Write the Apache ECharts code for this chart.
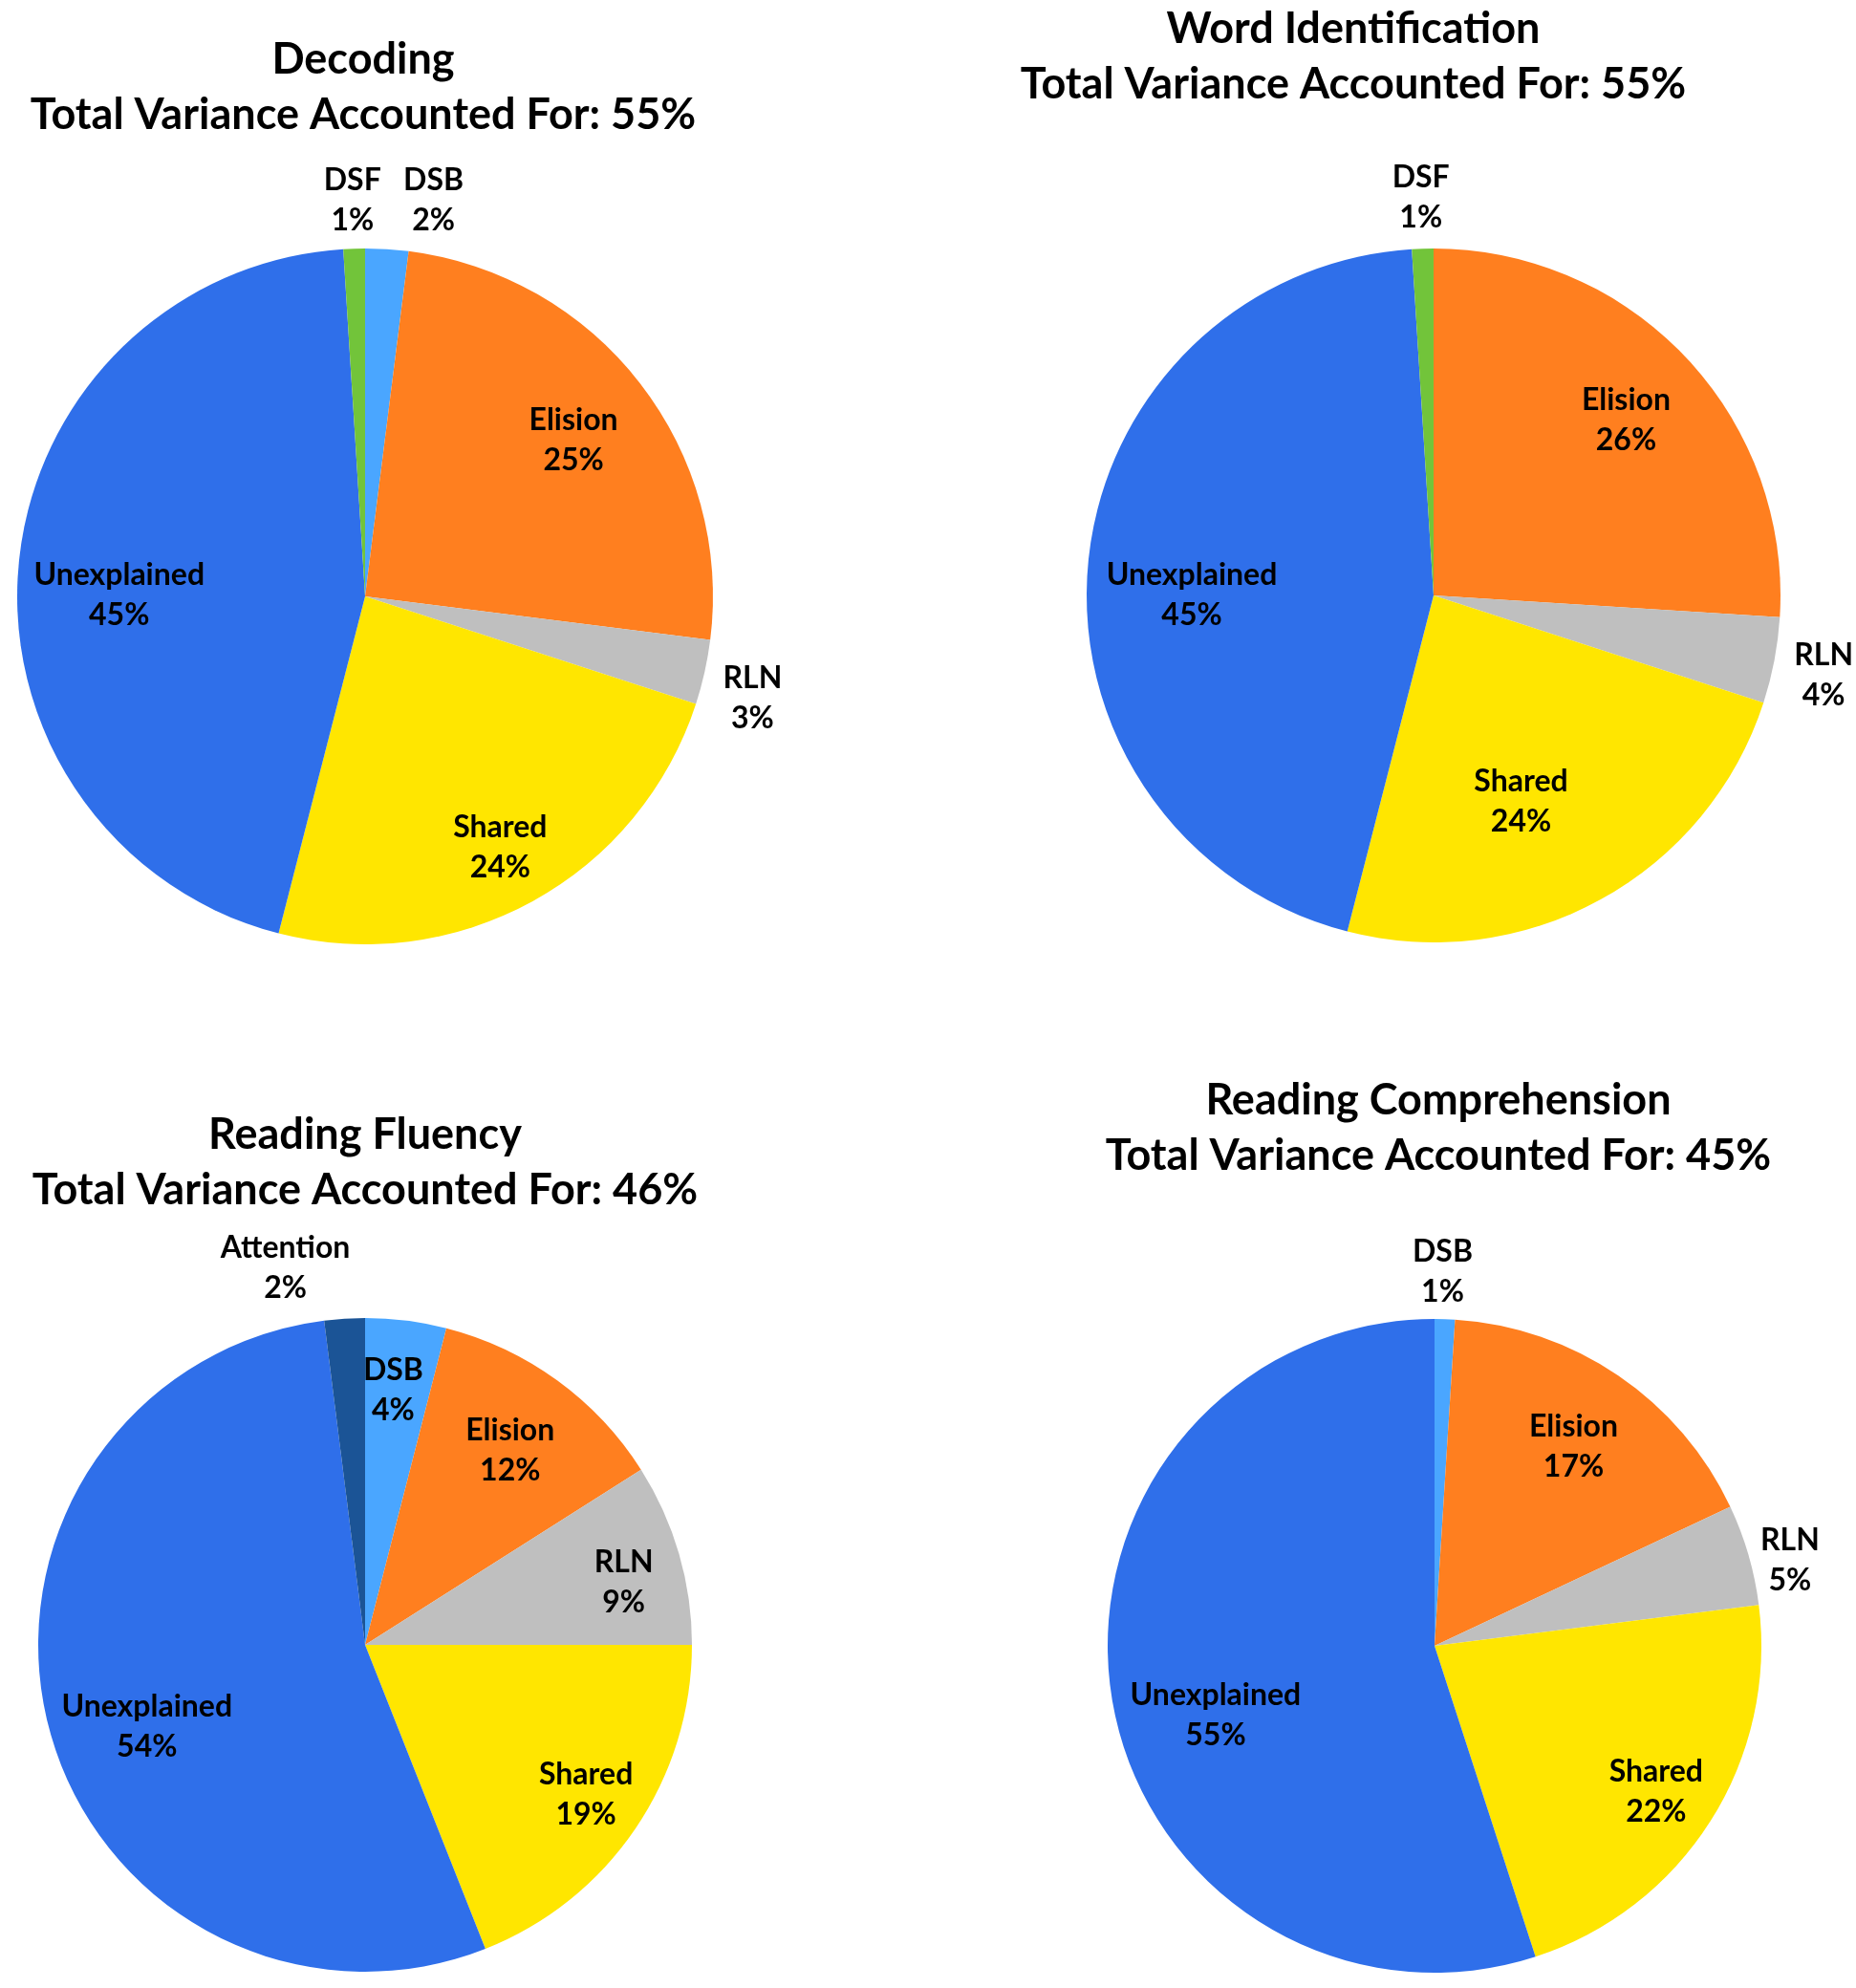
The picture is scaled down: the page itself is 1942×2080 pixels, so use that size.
<!DOCTYPE html>
<html>
<head>
<meta charset="utf-8">
<title>Variance accounted for</title>
<script src="https://cdn.jsdelivr.net/npm/echarts@6.0.0/dist/echarts.min.js"></script>
<style>
    html, body { margin: 0; padding: 0; background: #fff; }
    #chart { width: 1942px; height: 2080px; }
</style>
</head>
<body>
<div id="chart"></div>
<script>
    // Slices in clockwise order starting at 12 o'clock
    var decodingLabels = ['DSB', 'Elision', 'RLN', 'Shared', 'Unexplained', 'DSF'];
    var decodingValues = [2, 25, 3, 24, 45, 1];

    var wordIdLabels = ['Elision', 'RLN', 'Shared', 'Unexplained', 'DSF'];
    var wordIdValues = [26, 4, 24, 45, 1];

    var fluencyLabels = ['DSB', 'Elision', 'RLN', 'Shared', 'Unexplained', 'Attention'];
    var fluencyValues = [4, 12, 9, 19, 54, 2];

    var comprehensionLabels = ['DSB', 'Elision', 'RLN', 'Shared', 'Unexplained'];
    var comprehensionValues = [1, 17, 5, 22, 55];

    var chartTitles = ['Decoding', 'Word Identification', 'Reading Fluency', 'Reading Comprehension'];
    var totalVariance = [55, 55, 46, 45];

    var sliceColors = {
        Unexplained: '#2f6fea',
        Shared: '#ffe600',
        RLN: '#bfbfbf',
        Elision: '#ff7f1f',
        DSB: '#4aa6ff',
        DSF: '#72c43a',
        Attention: '#1b5496'
    };

    // layout of each panel; labelDist is the label distance from the centre as a share of the radius
    var panels = [
        {
            labels: decodingLabels, values: decodingValues,
            center: [382, 624], radius: 364, titleX: 380, titleY: 33,
            labelDist: { DSB: 1.145, Elision: 0.746, RLN: 1.131, Shared: 0.793, Unexplained: 0.693, DSF: 1.137 },
            labelShift: { DSB: [45, 3], RLN: [-3, 9], Unexplained: [-2, 17] }
        },
        {
            labels: wordIdLabels, values: wordIdValues,
            center: [1500, 623], radius: 363, titleX: 1416, titleY: 1,
            labelDist: { Elision: 0.749, RLN: 1.126, Shared: 0.616, Unexplained: 0.686, DSF: 1.145 },
            labelShift: { Shared: [-18, 10], Unexplained: [-1, 18] }
        },
        {
            labels: fluencyLabels, values: fluencyValues,
            center: [382, 1721], radius: 342, titleX: 382, titleY: 1158,
            labelDist: { DSB: 0.79, Elision: 0.742, RLN: 0.81, Shared: 0.803, Unexplained: 0.692, Attention: 1.164 },
            labelShift: { DSB: [-5, 0], RLN: [0, 7], Shared: [0, -6], Unexplained: [5, 20], Attention: [-58, 4] }
        },
        {
            labels: comprehensionLabels, values: comprehensionValues,
            center: [1501, 1722], radius: 342, titleX: 1505, titleY: 1122,
            labelDist: { DSB: 1.143, Elision: 0.744, RLN: 1.113, Shared: 0.789, Unexplained: 0.681 },
            labelShift: { DSB: [-4, 0], RLN: [0, 13], Unexplained: [5, 30] }
        }
    ];

    var fontFamily = 'Lato, "Open Sans", sans-serif';
    var labelDrop = 6;

    var chart = echarts.init(document.getElementById('chart'), null, { renderer: 'canvas' });

    var titles = panels.map(function (panel, i) {
        return {
            text: chartTitles[i] + '\nTotal Variance Accounted For: ' + totalVariance[i] + '%',
            left: panel.titleX,
            top: panel.titleY,
            padding: 0,
            textAlign: 'center',
            textStyle: {
                fontFamily: fontFamily,
                fontSize: 45,
                fontWeight: 'bold',
                lineHeight: 58,
                color: '#000'
            }
        };
    });

    var series = panels.map(function (panel) {
        var cx = panel.center[0];
        var cy = panel.center[1];
        return {
            type: 'pie',
            center: panel.center,
            radius: [0, panel.radius],
            startAngle: 90,
            clockwise: true,
            avoidLabelOverlap: false,
            silent: true,
            itemStyle: { borderWidth: 0 },
            label: {
                show: true,
                position: 'inside',
                formatter: function (p) {
                    return p.name + '\n' + p.value + '%';
                },
                fontFamily: fontFamily,
                fontSize: 32,
                fontWeight: 'bold',
                lineHeight: 42,
                color: '#000',
                align: 'center'
            },
            labelLine: { show: false },
            emphasis: { disabled: true },
            // inside labels sit at half the radius; push them out to where the original put them
            labelLayout: function (p) {
                var name = panel.labels[p.dataIndex];
                var k = panel.labelDist[name] || 0.5;
                var shift = panel.labelShift[name] || [0, 0];
                var lx = p.labelRect.x + p.labelRect.width / 2;
                var ly = p.labelRect.y + p.labelRect.height / 2;
                var f = k / 0.5 - 1;
                return { dx: (lx - cx) * f + shift[0], dy: (ly - cy) * f + shift[1] + labelDrop };
            },
            data: panel.labels.map(function (name, j) {
                return { name: name, value: panel.values[j], itemStyle: { color: sliceColors[name] } };
            })
        };
    });

    chart.setOption({
        animation: false,
        backgroundColor: '#fff',
        title: titles,
        series: series
    });

    window.addEventListener('resize', function () {
        chart.resize();
    });
</script>
</body>
</html>
